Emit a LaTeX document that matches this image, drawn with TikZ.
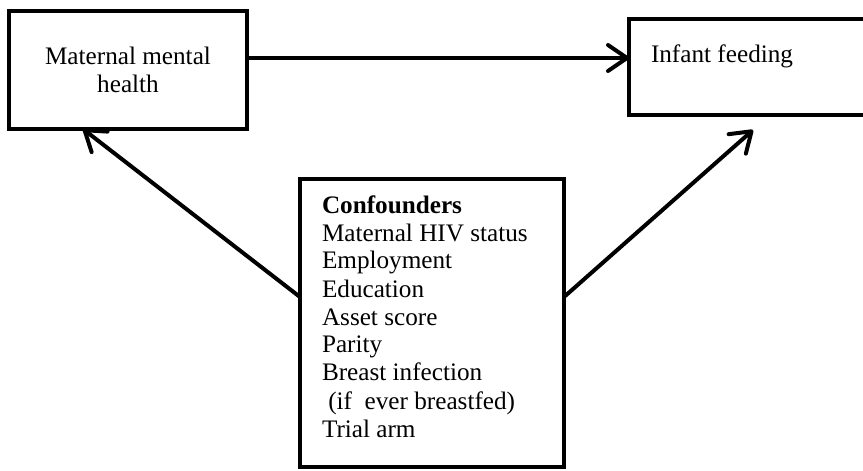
\documentclass[tikz,border=0pt]{standalone}
\usepackage{fontspec}
\setmainfont{Liberation Serif}
\usetikzlibrary{arrows.meta}

\tikzset{
  box/.style={draw, line width=2pt, fill=white, inner sep=0pt, outer sep=0pt},
  label/.style={inner sep=0pt, outer sep=0pt, font=\fontsize{12.6}{14}\selectfont},
  arr/.style={line width=2pt, line cap=round,
    -{Straight Barb[length=9.5pt,width=13pt,round]}},
}

\begin{document}
\begin{tikzpicture}[x=0.5pt,y=-0.5pt]
  \clip (0,0) rectangle (863,471);
  \fill[white] (0,0) rectangle (863,471);

  % boxes
  \node[box, minimum width=119pt, minimum height=59pt] (mmh) at (128,70) {};
  \node[box, minimum width=125.5pt, minimum height=48pt] (inf) at (754.5,67) {};
  \node[box, minimum width=132pt, minimum height=144pt] (conf) at (432,323) {};

  % box texts
  \node[label, anchor=base] (mmhtext) at (128,64)
    {\begin{tabular}[t]{@{}c@{}}Maternal mental\\health\end{tabular}};
  \node[label, anchor=base west] (inftext) at (651,62) {Infant feeding};
  \node[label, anchor=base west] (conftext) at (322,213)
    {\begin{tabular}[t]{@{}l@{}}
      \textbf{Confounders}\\
      Maternal HIV status\\
      Employment\\
      Education\\
      Asset score\\
      Parity\\
      Breast infection\\
      \ (if\ \ ever breastfed)\\
      Trial arm
    \end{tabular}};

  % connectors
  \coordinate (tipR) at (753,130);
  \draw[arr] (mmh.east |- 0,58) -- (inf.west |- 0,58);
  \draw[arr] (conf.west |- 0,297) -- (mmh.south -| 83,0);
  \draw[arr] (conf.east |- 0,297) -- (tipR);
\end{tikzpicture}
\end{document}
